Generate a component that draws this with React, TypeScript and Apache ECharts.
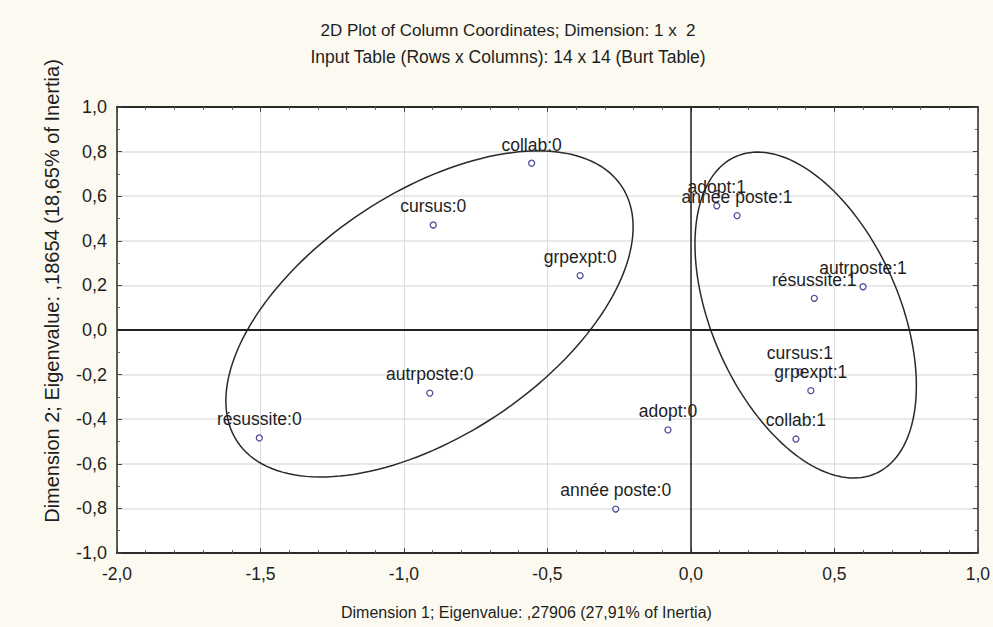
import React, { useEffect, useRef } from "react";
import * as echarts from "echarts";

// ---- Data ----
const pointLabels = [
  "collab:0", "cursus:0", "grpexpt:0", "autrposte:0", "résussite:0", "adopt:0", "année poste:0",
  "adopt:1", "année poste:1", "résussite:1", "autrposte:1", "cursus:1", "grpexpt:1", "collab:1",
];
const dim1 = [-0.555, -0.898, -0.386, -0.910, -1.504, -0.080, -0.262, 0.090, 0.161, 0.430, 0.600, 0.380, 0.418, 0.366];
const dim2 = [0.748, 0.471, 0.244, -0.283, -0.484, -0.448, -0.803, 0.557, 0.513, 0.142, 0.194, -0.188, -0.272, -0.489];

const xMin = -2.0, xMax = 1.0, xStep = 0.5;
const yMin = -1.0, yMax = 1.0, yStep = 0.2;

// Ellipses (data units): centre, and the two conjugate semi-axis vectors
const ellipseCenterX = [-0.911, 0.400];
const ellipseCenterY = [0.072, 0.067];
const ellipseAxisA = [[0.671, 0.570], [-0.245, 0.710]];
const ellipseAxisB = [[-0.231, 0.458], [0.298, 0.173]];

const titleLine1 = "2D Plot of Column Coordinates; Dimension: 1 x  2";
const titleLine2 = "Input Table (Rows x Columns): 14 x 14 (Burt Table)";
const xAxisTitle = "Dimension 1; Eigenvalue: ,27906 (27,91% of Inertia)";
const yAxisTitle = "Dimension 2; Eigenvalue: ,18654 (18,65% of Inertia)";

const FONT = "'Liberation Sans', Arial, sans-serif";
const TEXT = "#1e1e1e";

const fmt = (v: number) => (Math.abs(v) < 1e-9 ? 0 : v).toFixed(1).replace(".", ",");

export default function App() {
  const ref = useRef<HTMLDivElement>(null);
  useEffect(() => {
    if (!ref.current) return;
    const chart = echarts.init(ref.current, null, { renderer: "svg" });
    const scatterData = dim1.map((x, i) => [x, dim2[i], pointLabels[i]]);
    const ellipseData = ellipseCenterX.map((cx, i) => [cx, ellipseCenterY[i], i]);

    const hLine = { show: true, onZero: false, lineStyle: { color: "#2b2b2b", width: 2 } };
    const vLine = { show: true, onZero: false, lineStyle: { color: "#2b2b2b", width: 1.5 } };
    const tick = { show: true, inside: true, length: 5, lineStyle: { color: "#444" } };
    const xMinor = { show: true, splitNumber: 5, length: 3, lineStyle: { color: "#666" } };
    const yMinor = { show: true, splitNumber: 2, length: 3, lineStyle: { color: "#666" } };

    chart.setOption({
      animation: false,
      backgroundColor: "#fcfaf0",
      textStyle: { fontFamily: FONT },
      title: [
        { text: titleLine1, left: 503, top: 17, textAlign: "center", textStyle: { fontFamily: FONT, fontSize: 17, fontWeight: "normal", color: TEXT } },
        { text: titleLine2, left: 503, top: 43, textAlign: "center", textStyle: { fontFamily: FONT, fontSize: 17.5, fontWeight: "normal", color: TEXT } },
      ],
      grid: { left: 117, right: 8, top: 107, bottom: 74, show: true, backgroundColor: "#ffffff", borderWidth: 0 },
      xAxis: [
        {
          type: "value", min: xMin, max: xMax, interval: xStep, position: "bottom",
          axisLine: hLine, axisTick: tick, minorTick: xMinor,
          axisLabel: { formatter: fmt, fontSize: 17.5, color: TEXT, fontFamily: FONT, margin: 12, showMaxLabel: true },
          splitLine: { show: true, lineStyle: { color: "#dcdcdc", width: 1 } },
          name: xAxisTitle, nameLocation: "middle", nameGap: 51,
          nameTextStyle: { fontSize: 16, color: TEXT, fontFamily: FONT, padding: [0, 42, 0, 0] },
        },
        {
          type: "value", min: xMin, max: xMax, interval: xStep, position: "top",
          axisLine: hLine, axisTick: tick, minorTick: xMinor,
          axisLabel: { show: false }, splitLine: { show: false },
        },
      ],
      yAxis: [
        {
          type: "value", min: yMin, max: yMax, interval: yStep, position: "left",
          axisLine: vLine, axisTick: tick, minorTick: yMinor,
          axisLabel: { formatter: fmt, fontSize: 18, color: TEXT, fontFamily: FONT, margin: 10 },
          splitLine: { show: true, lineStyle: { color: "#e2e2e2", width: 1.6 } },
          name: yAxisTitle, nameLocation: "middle", nameGap: 55, nameRotate: 90,
          nameTextStyle: { fontSize: 20, color: TEXT, fontFamily: FONT, padding: [0, 0, 0, 78] },
        },
        {
          type: "value", min: yMin, max: yMax, interval: yStep, position: "right",
          axisLine: vLine, axisTick: tick, minorTick: yMinor,
          axisLabel: { show: false }, splitLine: { show: false },
        },
      ],
      series: [
        {
          type: "custom",
          xAxisIndex: 0, yAxisIndex: 0,
          clip: false, silent: true, z: 3,
          data: ellipseData,
          encode: { x: 0, y: 1 },
          renderItem: (params: any, api: any) => {
            const i = api.value(2);
            const cx = api.value(0), cy = api.value(1);
            const a = ellipseAxisA[i], b = ellipseAxisB[i];
            const pts: number[][] = [];
            const n = 160;
            for (let k = 0; k <= n; k++) {
              const t = (k / n) * Math.PI * 2;
              const x = cx + Math.cos(t) * a[0] + Math.sin(t) * b[0];
              const y = cy + Math.cos(t) * a[1] + Math.sin(t) * b[1];
              pts.push(api.coord([x, y]));
            }
            return {
              type: "polygon",
              shape: { points: pts },
              style: { fill: "none", stroke: "#2a2a2a", lineWidth: 1.5 },
            };
          },
        },
        {
          type: "scatter",
          xAxisIndex: 0, yAxisIndex: 0, z: 4,
          data: scatterData,
          symbol: "circle",
          symbolSize: 6,
          itemStyle: { color: "#ffffff", borderColor: "#4d4d9c", borderWidth: 1.3, opacity: 1 },
          label: {
            show: true, position: "top", distance: 6,
            formatter: (p: any) => p.data[2],
            fontSize: 17.5, color: TEXT, fontFamily: FONT,
          },
          labelLayout: { hideOverlap: false },
          emphasis: { disabled: true },
          markLine: {
            silent: true, symbol: ["none", "none"], label: { show: false },
            lineStyle: { color: "#222", type: "solid", width: 1.5 },
            data: [
              { xAxis: 0, lineStyle: { color: "#222", type: "solid", width: 1.5 } },
              { yAxis: 0, lineStyle: { color: "#222", type: "solid", width: 2 } },
            ],
          },
        },
      ],
    });
    return () => chart.dispose();
  }, []);
  return (
    <div
      ref={ref}
      style={{ position: "absolute", left: 0, top: 0, width: 993, height: 627 }}
    />
  );
}
